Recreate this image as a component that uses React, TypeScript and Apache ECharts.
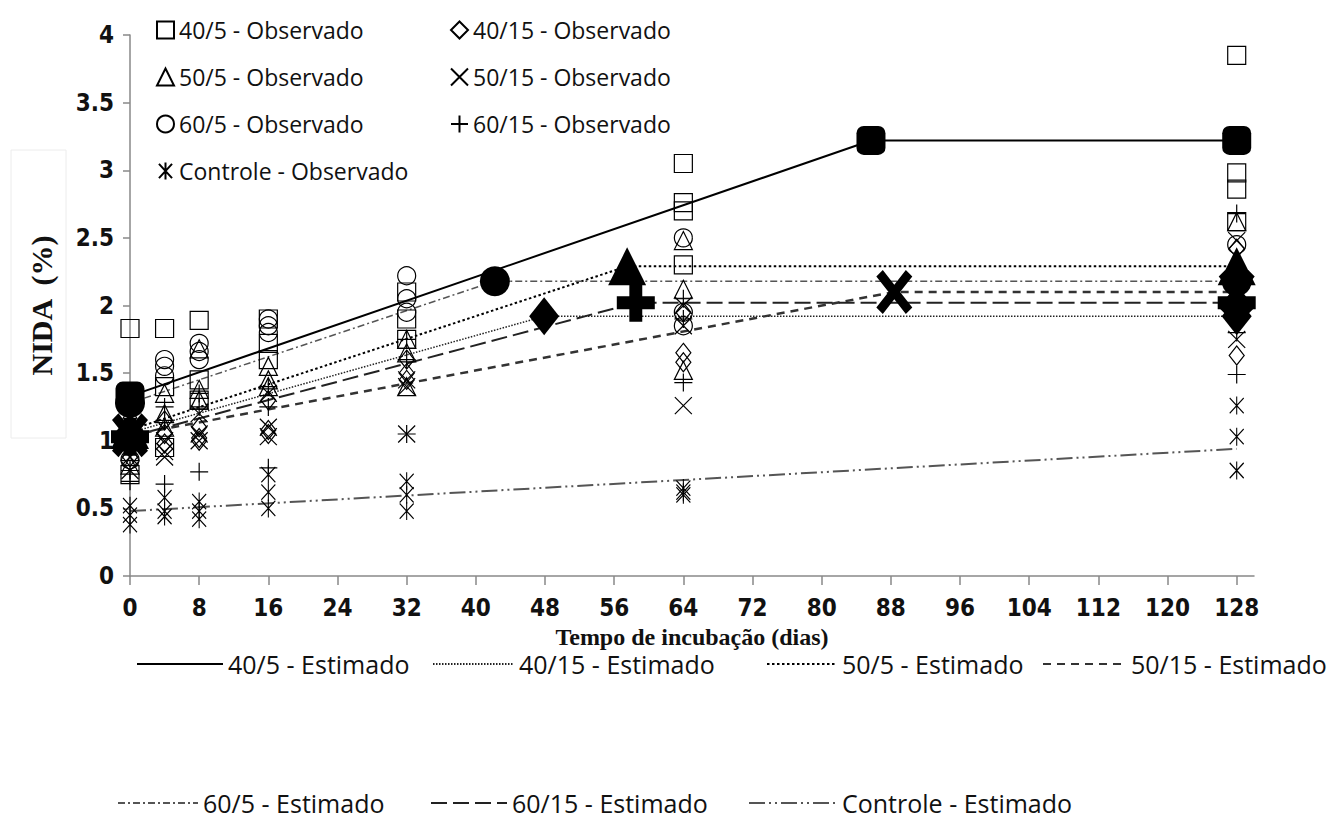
import React, { useEffect, useRef } from "react";
import * as echarts from "echarts";

// ---- axes ----
const xTicks = [0, 8, 16, 24, 32, 40, 48, 56, 64, 72, 80, 88, 96, 104, 112, 120, 128];

// ---- observed values [day, NIDA %] ----
const obs40_5 = [
  [0, 1.83], [0, 1.35], [0, 0.75],
  [4, 1.83], [4, 1.4], [4, 0.95],
  [8, 1.89], [8, 1.45], [8, 1.3],
  [16, 1.9], [16, 1.72], [16, 1.6],
  [32, 2.1], [32, 1.9], [32, 1.75],
  [64, 3.05], [64, 2.76], [64, 2.7], [64, 2.3],
  [128, 3.85], [128, 2.98], [128, 2.86], [128, 2.62],
];
const obs40_15 = [
  [0, 1.1], [0, 0.95], [0, 0.88],
  [4, 1.15], [4, 1.05], [4, 0.98],
  [8, 1.1], [8, 1.02], [8, 1.0],
  [16, 1.3], [16, 1.08], [16, 1.05],
  [32, 1.6], [32, 1.5], [32, 1.45],
  [64, 1.95], [64, 1.65], [64, 1.58],
  [128, 2.42], [128, 1.95], [128, 1.63],
];
const obs50_5 = [
  [0, 1.2], [0, 0.92], [0, 0.82],
  [4, 1.35], [4, 1.2], [4, 1.1],
  [8, 1.68], [8, 1.38], [8, 1.3],
  [16, 1.55], [16, 1.45], [16, 1.4],
  [32, 1.75], [32, 1.65], [32, 1.4],
  [64, 2.48], [64, 2.12], [64, 1.52],
  [128, 2.62], [128, 2.3], [128, 2.2],
];
const obs50_15 = [
  [0, 1.05], [0, 0.88], [0, 0.78],
  [4, 1.0], [4, 0.92], [4, 0.88],
  [8, 1.2], [8, 1.05], [8, 1.0],
  [16, 1.35], [16, 1.1], [16, 1.03],
  [32, 1.45], [32, 1.4], [32, 1.05],
  [64, 2.0], [64, 1.85], [64, 1.26],
  [128, 2.48], [128, 2.1], [128, 1.75],
];
const obs60_5 = [
  [0, 1.3], [0, 0.98], [0, 0.86],
  [4, 1.6], [4, 1.55], [4, 1.48],
  [8, 1.72], [8, 1.66], [8, 1.6],
  [16, 1.9], [16, 1.85], [16, 1.8],
  [32, 2.22], [32, 2.05], [32, 1.95],
  [64, 2.5], [64, 1.95], [64, 1.85],
  [128, 2.45], [128, 2.25], [128, 2.0],
];
const obs60_15 = [
  [0, 1.0], [0, 0.78], [0, 0.7],
  [4, 1.25], [4, 1.15], [4, 0.68],
  [8, 1.35], [8, 1.25], [8, 0.77],
  [16, 1.4], [16, 1.25], [16, 0.8],
  [32, 1.75], [32, 1.6], [32, 1.05],
  [64, 2.05], [64, 1.9], [64, 1.43],
  [128, 2.68], [128, 1.8], [128, 1.49],
];
const obsControle = [
  [0, 0.52], [0, 0.45], [0, 0.38],
  [4, 0.58], [4, 0.48], [4, 0.44],
  [8, 0.55], [8, 0.48], [8, 0.42],
  [16, 0.75], [16, 0.62], [16, 0.5],
  [32, 0.7], [32, 0.6], [32, 0.48],
  [64, 0.65], [64, 0.62], [64, 0.6],
  [128, 1.26], [128, 1.03], [128, 0.78],
];

// ---- estimated (linear-plateau) vertices ----
const est40_5 = [[0, 1.33], [85.7, 3.22], [128, 3.22]];
const est40_15 = [[0, 1.06], [47.9, 1.92], [128, 1.92]];
const est50_5 = [[0, 1.08], [57.5, 2.29], [128, 2.29]];
const est50_15 = [[0, 1.04], [88.4, 2.1], [128, 2.1]];
const est60_5 = [[0, 1.28], [42.2, 2.18], [128, 2.18]];
const est60_15 = [[0, 1.03], [58.5, 2.02], [128, 2.02]];
const estControle = [[0, 0.48], [128, 0.94]];

// ---- symbols ----
const SYM_X = "path://M0,0L10,10M10,0L0,10";
const SYM_PLUS = "path://M5,0L5,10M0,5L10,5";
const SYM_AST = "path://M0,1L10,12M10,1L0,12M5,0L5,13";
const SYM_PLUS_FILLED = "path://M3.3,0H6.7V3.3H10V6.7H6.7V10H3.3V6.7H0V3.3H3.3Z";
const SYM_X_FILLED =
  "path://M0,1.8L1.8,0L5,4L8.2,0L10,1.8L6.6,6L10,10.2L8.2,12L5,8L1.8,12L0,10.2L3.4,6Z";

const LEG_FONT = "'Open Sans', 'Noto Sans', sans-serif";
const TICK_FONT = "'Liberation Sans Narrow', 'DejaVu Sans Condensed', sans-serif";
const SERIF = "'Liberation Serif', 'DejaVu Serif', serif";

function obsSeries(name: string, data: number[][], symbol: string, size: any) {
  return {
    name,
    type: "scatter",
    data,
    symbol,
    symbolSize: size,
    z: 4,
    itemStyle: { color: "transparent", borderColor: "#000", borderWidth: 1.2, opacity: 1 },
    emphasis: { disabled: true },
  };
}

function estLine(name: string, data: number[][], color: string, width: number, type: any) {
  return {
    name,
    type: "line",
    data,
    symbol: "none",
    z: 2,
    lineStyle: { color, width, type },
    itemStyle: { color },
    emphasis: { disabled: true },
  };
}

function estMarks(name: string, data: number[][], symbol: string, size: any) {
  return {
    name,
    type: "scatter",
    data,
    symbol,
    symbolSize: size,
    z: 3,
    itemStyle: { color: "#000", borderColor: "#000", borderWidth: 0, opacity: 1 },
    emphasis: { disabled: true },
  };
}

function lineLegend(name: string, left: number, top: number, w: number) {
  return {
    data: [name],
    left,
    top,
    itemWidth: w,
    itemHeight: 14,
    selectedMode: false,
    padding: 0,
    itemStyle: { opacity: 0, color: "rgba(0,0,0,0)", borderWidth: 0 },
    textStyle: { fontFamily: LEG_FONT, fontSize: 25, color: "#111", lineHeight: 26 },
  };
}

export default function App() {
  const ref = useRef<HTMLDivElement>(null);
  useEffect(() => {
    const chart = echarts.init(ref.current!, null, { renderer: "svg" });
    const option: any = {
      animation: false,
      backgroundColor: "#fff",
      grid: { left: 130, right: 84, top: 35, bottom: 254 },
      xAxis: {
        type: "value",
        min: 0,
        max: 130,
        interval: 8,
        name: "Tempo de incubação (dias)",
        nameLocation: "middle",
        nameGap: 40,
        nameTextStyle: { fontFamily: SERIF, fontWeight: "bold", fontSize: 24, color: "#111", lineHeight: 24 },
        axisLine: { lineStyle: { color: "#888", width: 1.5 } },
        axisTick: { show: true, length: 9, customValues: xTicks, lineStyle: { color: "#888", width: 1.5 } },
        axisLabel: {
          customValues: xTicks,
          fontFamily: TICK_FONT,
          fontWeight: "bold",
          fontSize: 24,
          lineHeight: 24,
          color: "#111",
          margin: 20,
        },
        splitLine: { show: false },
      },
      yAxis: {
        type: "value",
        min: 0,
        max: 4,
        interval: 0.5,
        name: "NIDA  (%)",
        nameLocation: "middle",
        nameGap: 74,
        nameTextStyle: { fontFamily: SERIF, fontWeight: "bold", fontSize: 30, color: "#111" },
        axisLine: { show: true, lineStyle: { color: "#888", width: 1.5 } },
        axisTick: { show: true, length: 7, lineStyle: { color: "#888", width: 1.5 } },
        axisLabel: {
          fontFamily: TICK_FONT,
          fontWeight: "bold",
          fontSize: 24,
          color: "#111",
          margin: 16,
        },
        splitLine: { show: false },
      },
      legend: [
        {
          data: ["40/5 - Observado", "50/5 - Observado", "60/5 - Observado", "Controle - Observado"],
          orient: "vertical",
          left: 156,
          top: 15,
          itemWidth: 17,
          itemHeight: 17,
          itemGap: 17,
          padding: 0,
          selectedMode: false,
          textStyle: { fontFamily: LEG_FONT, fontSize: 23, color: "#111", lineHeight: 30 },
        },
        {
          data: ["40/15 - Observado", "50/15 - Observado", "60/15 - Observado"],
          orient: "vertical",
          left: 450,
          top: 15,
          itemWidth: 17,
          itemHeight: 17,
          itemGap: 17,
          padding: 0,
          selectedMode: false,
          textStyle: { fontFamily: LEG_FONT, fontSize: 23, color: "#111", lineHeight: 30 },
        },
        lineLegend("40/5 - Estimado", 136, 651, 86),
        lineLegend("40/15 - Estimado", 432, 651, 81),
        lineLegend("50/5 - Estimado", 766, 651, 70),
        lineLegend("50/15 - Estimado", 1042, 651, 83),
        lineLegend("60/5 - Estimado", 117, 790, 80),
        lineLegend("60/15 - Estimado", 430, 790, 76),
        lineLegend("Controle - Estimado", 748, 790, 88),
      ],
      graphic: [
        {
          type: "rect",
          shape: { x: 11, y: 150, width: 55, height: 288 },
          style: { fill: "none", stroke: "#ececec", lineWidth: 1 },
          silent: true,
        },
      ],
      series: [
        estLine("40/5 - Estimado", est40_5, "#000", 2, "solid"),
        estLine("40/15 - Estimado", est40_15, "#222", 1.5, [1.5, 1.5]),
        estLine("50/5 - Estimado", est50_5, "#000", 2, [2.5, 2.5]),
        estLine("50/15 - Estimado", est50_15, "#333", 2.5, [8, 6]),
        estLine("60/5 - Estimado", est60_5, "#555", 1.5, [7, 3, 2, 3]),
        estLine("60/15 - Estimado", est60_15, "#222", 2, [16, 6]),
        estLine("Controle - Estimado", estControle, "#555", 2, [16, 4, 2, 4, 2, 4]),
        estMarks("40/5 - Estimado (pontos)", est40_5, "roundRect", 29),
        estMarks("40/15 - Estimado (pontos)", est40_15, "diamond", [30, 38]),
        estMarks("50/5 - Estimado (pontos)", est50_5, "triangle", 38),
        estMarks("50/15 - Estimado (pontos)", est50_15, SYM_X_FILLED, [36, 44]),
        estMarks("60/5 - Estimado (pontos)", est60_5, "circle", 30),
        estMarks("60/15 - Estimado (pontos)", est60_15, SYM_PLUS_FILLED, 38),
        obsSeries("40/5 - Observado", obs40_5, "rect", 18),
        obsSeries("40/15 - Observado", obs40_15, "diamond", [15, 19]),
        obsSeries("50/5 - Observado", obs50_5, "triangle", 18),
        obsSeries("50/15 - Observado", obs50_15, SYM_X, 17),
        obsSeries("60/5 - Observado", obs60_5, "circle", 18),
        obsSeries("60/15 - Observado", obs60_15, SYM_PLUS, 18),
        obsSeries("Controle - Observado", obsControle, SYM_AST, [14, 18]),
      ],
    };
    chart.setOption(option);
    return () => chart.dispose();
  }, []);
  return (
    <div
      ref={ref}
      style={{ position: "fixed", left: 0, top: 0, width: 1338, height: 830, background: "#fff" }}
    />
  );
}
